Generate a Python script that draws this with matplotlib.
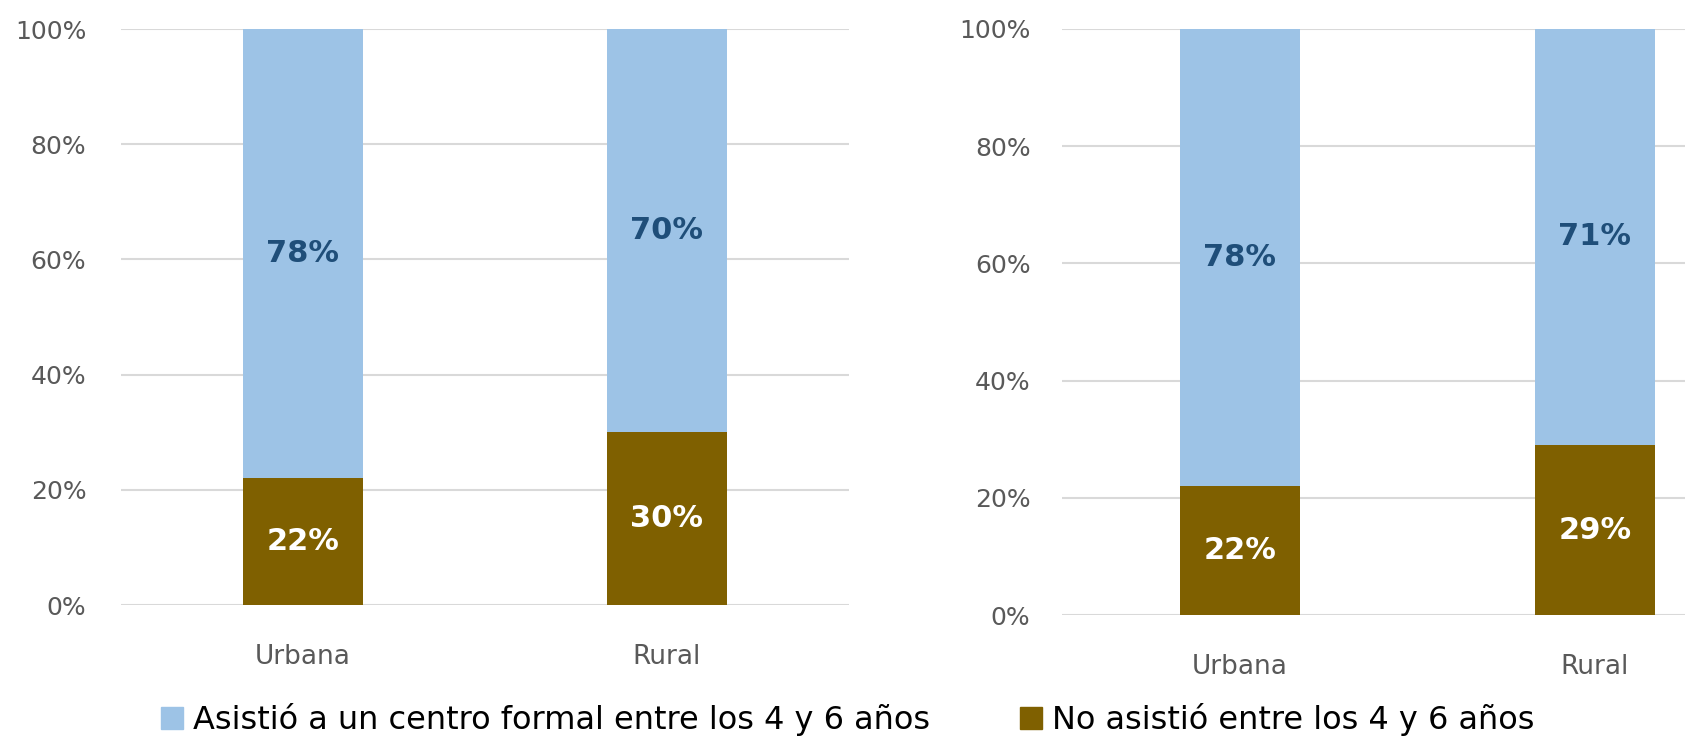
import matplotlib.pyplot as plt
from matplotlib.patches import Patch
from matplotlib.ticker import PercentFormatter

plt.rcParams['font.family'] = ['DejaVu Sans']

areas = ['Urbana', 'Rural']
asistio_a = [78, 70]
no_asistio_a = [22, 30]
asistio_b = [78, 71]
no_asistio_b = [22, 29]
legend_labels = ['Asistió a un centro formal entre los 4 y 6 años',
                 'No asistió entre los 4 y 6 años']

blue = '#9DC3E6'
brown = '#7F6000'
dark_blue = '#1F4E79'
grey = '#595959'

fig = plt.figure(figsize=(16.85, 7.41), dpi=100)
ax1 = fig.add_axes([0.0718, 0.1835, 0.432, 0.7773])
ax2 = fig.add_axes([0.6305, 0.170, 0.4214, 0.791])


def stacked(ax, bottom_vals, top_vals, width, ypad):
    x = range(len(areas))
    b1 = ax.bar(x, bottom_vals, width=width, color=brown, zorder=3)
    b2 = ax.bar(x, top_vals, width=width, bottom=bottom_vals, color=blue, zorder=3)
    for rect, v in zip(b1, bottom_vals):
        ax.text(rect.get_x() + rect.get_width() / 2, v / 2, f'{v}%',
                ha='center', va='center', color='white',
                fontsize=22, fontweight='bold', zorder=4)
    for rect, b, v in zip(b2, bottom_vals, top_vals):
        ax.text(rect.get_x() + rect.get_width() / 2, b + v / 2, f'{v}%',
                ha='center', va='center', color=dark_blue,
                fontsize=22, fontweight='bold', zorder=4)
    ax.set_xlim(-0.5, 1.5)
    ax.set_ylim(0, 100)
    ax.set_yticks(range(0, 101, 20))
    ax.yaxis.set_major_formatter(PercentFormatter(decimals=0))
    ax.set_xticks(list(x))
    ax.set_xticklabels(areas)
    ax.grid(axis='y', color='#D9D9D9', linewidth=1.5, zorder=0)
    for s in ax.spines.values():
        s.set_visible(False)
    ax.tick_params(length=0, labelsize=18, labelcolor=grey)
    ax.tick_params(axis='x', pad=28, labelsize=19)
    ax.tick_params(axis='y', pad=ypad)


stacked(ax1, no_asistio_a, asistio_a, 0.33, 25)
stacked(ax2, no_asistio_b, asistio_b, 0.34, 23)

handles = [Patch(color=blue), Patch(color=brown)]
fig.legend(handles, legend_labels, loc='center', bbox_to_anchor=(0.503, 0.029),
           ncol=2, frameon=False, fontsize=23, handlelength=0.7, handleheight=0.7,
           handletextpad=0.3, columnspacing=2.8)

fig.savefig('out.png', dpi=100)
